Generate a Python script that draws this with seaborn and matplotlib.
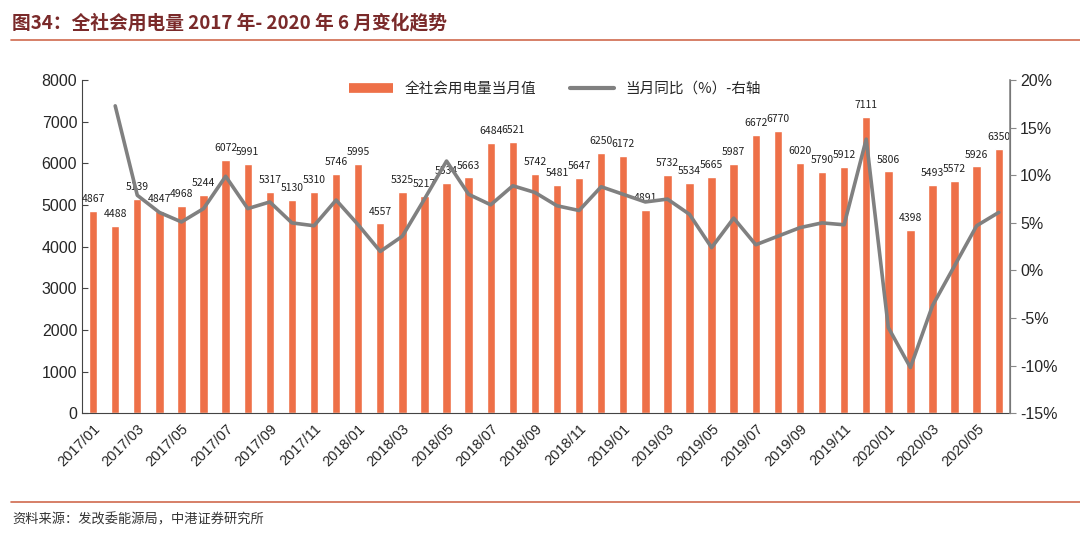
import numpy as np
import pandas as pd
import matplotlib
matplotlib.use("Agg")
import matplotlib.pyplot as plt
from matplotlib.lines import Line2D
from matplotlib.ticker import FuncFormatter
import seaborn as sns

# Data: monthly power consumption (100 GWh) and yoy growth (%)
months = [f"{y}/{m:02d}" for y in range(2017, 2021) for m in range(1, 13)][:42]
power = [4867, 4488, 5139, 4847, 4968, 5244, 6072, 5991, 5317, 5130, 5310, 5746,
         5995, 4557, 5325, 5217, 5534, 5663, 6484, 6521, 5742, 5481, 5647, 6250,
         6172, 4891, 5732, 5534, 5665, 5987, 6672, 6770, 6020, 5790, 5912, 7111,
         5806, 4398, 5493, 5572, 5926, 6350]
yoy = [np.nan, 17.3, 7.9, 6.1, 5.1, 6.5, 9.9, 6.5, 7.2, 5.0, 4.7, 7.4,
       4.8, 2.0, 3.6, 7.5, 11.5, 8.0, 6.9, 8.9, 8.2, 6.8, 6.3, 8.8,
       8.0, 7.2, 7.5, 5.9, 2.4, 5.5, 2.7, 3.6, 4.5, 5.0, 4.8, 13.8,
       -6.0, -10.2, -3.7, 0.5, 4.7, 6.1]

df = pd.DataFrame({"month": months, "power": power, "yoy": yoy, "idx": range(len(months))})

bar_color = "#EE7048"
line_color = "#808080"

sns.set_style("white")
plt.rcParams['font.family'] = ['Noto Sans CJK SC', 'DejaVu Sans']

fig = plt.figure(figsize=(10.8, 5.38), dpi=100)
ax = fig.add_axes([0.076, 0.232, 0.859, 0.619])

sns.barplot(data=df, x="month", y="power", color=bar_color, width=0.38,
            saturation=1, ax=ax)
ax.bar_label(ax.containers[0], fmt="%d", padding=5, fontsize=7.5,
             family=['Noto Sans CJK SC'], color="#222222")
ax.set_xlim(-0.5, len(months) - 0.5)
ax.set_ylim(0, 8000)
ax.set_yticks(range(0, 8001, 1000))
ax.set_xlabel("")
ax.set_ylabel("")

# x labels every 2 months, tick marks between categories
ax.set_xticks(range(0, len(months), 2))
ax.set_xticklabels(months[::2], rotation=45, ha="right", rotation_mode="anchor",
                   fontsize=10.5, family=["Liberation Sans"])
ax.set_xticks(np.arange(1.5, len(months), 2), minor=True)
ax.tick_params(axis="x", which="major", length=0, pad=6)
ax.tick_params(axis="x", which="minor", length=4, direction="in", color="#444444")
ax.tick_params(axis="y", length=4, direction="in", color="#444444", labelsize=11.5)
for lab in ax.get_yticklabels():
    lab.set_family("Liberation Sans")

ax2 = ax.twinx()
sns.lineplot(data=df, x="idx", y="yoy", color=line_color, linewidth=2.6, ax=ax2)
ax2.set_ylim(-15, 20)
ax2.set_yticks(range(-15, 21, 5))
ax2.yaxis.set_major_formatter(FuncFormatter(lambda v, p: f"{v:.0f}%"))
ax2.tick_params(axis="y", length=4, direction="out", color="#888888", labelsize=11.5)
for lab in ax2.get_yticklabels():
    lab.set_family("Liberation Sans")
ax2.set_ylabel("")
ax2.set_xlabel("")
ax2.set_xlim(-0.5, len(months) - 0.5)

for a in (ax, ax2):
    a.spines["top"].set_visible(False)
ax.spines["left"].set_color("#444444")
ax.spines["bottom"].set_color("#444444")
ax2.spines["left"].set_visible(False)
ax2.spines["bottom"].set_visible(False)
ax2.spines["right"].set_color("#888888")
ax2.spines["right"].set_linewidth(1.2)

handles = [Line2D([], [], color=bar_color, linewidth=7, solid_capstyle="butt"),
           Line2D([], [], color=line_color, linewidth=3)]
ax.legend(handles, ["全社会用电量当月值", "当月同比（%）-右轴"], ncol=2, frameon=False,
          loc="upper center", bbox_to_anchor=(0.51, 1.035), fontsize=10.5,
          handlelength=3.0, columnspacing=2.3)

# header and footer
fig.text(0.011, 0.958, "图34：全社会用电量 2017 年- 2020 年 6 月变化趋势", fontsize=13.5,
         fontweight="bold", color="#7A2A2A", va="center", ha="left")
fig.add_artist(Line2D([0.01, 1.0], [0.925, 0.925], color="#D0694E", linewidth=1.2))
fig.add_artist(Line2D([0.01, 1.0], [0.067, 0.067], color="#D0694E", linewidth=1.2))
fig.text(0.011, 0.033, "资料来源：发改委能源局，中港证券研究所", fontsize=9.5,
         style="italic", color="#333333", va="center", ha="left")

fig.savefig("out.png", dpi=100)
